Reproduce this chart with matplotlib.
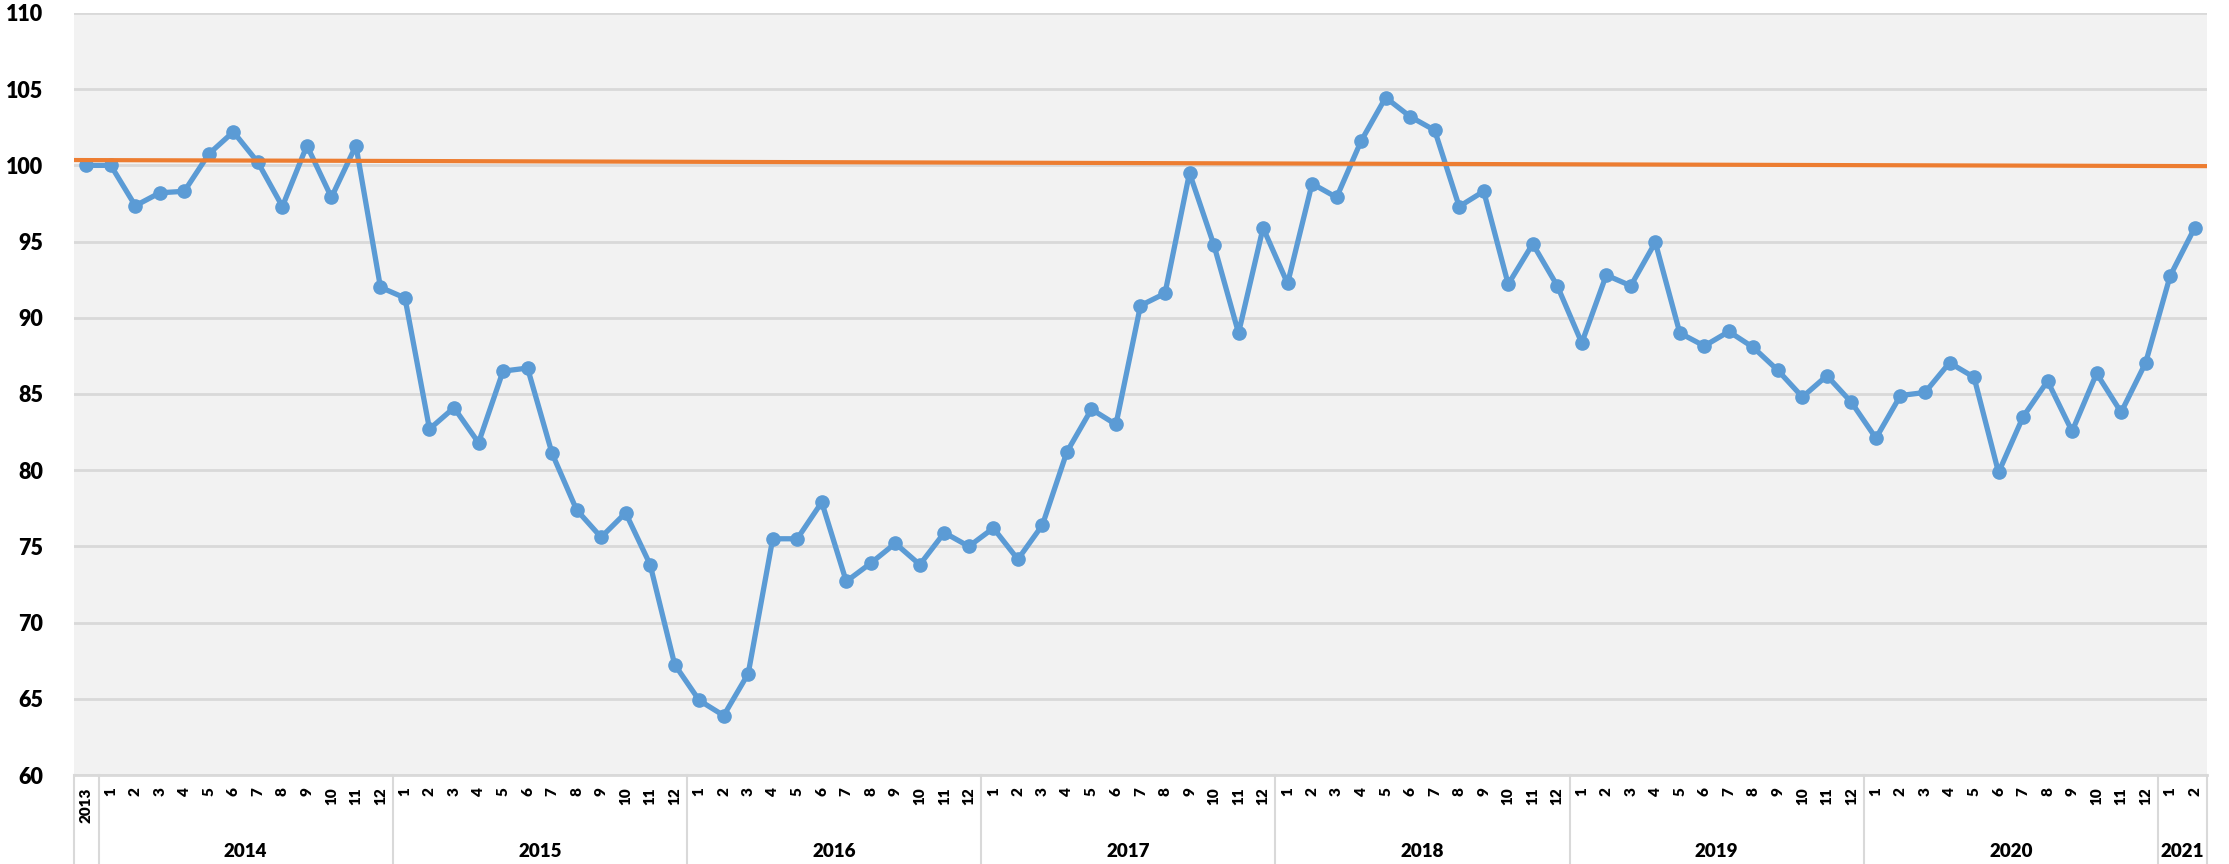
import numpy as np
import matplotlib.pyplot as plt
from matplotlib.transforms import blended_transform_factory

# index values, read month by month
v2013 = [100.0]
v2014 = [100.0, 97.35, 98.2, 98.3, 100.75, 102.2, 100.2, 97.3, 101.3, 97.9, 101.3, 92.0]
v2015 = [91.3, 82.7, 84.1, 81.8, 86.5, 86.7, 81.1, 77.4, 75.6, 77.2, 73.8, 67.25]
v2016 = [64.9, 63.9, 66.65, 75.5, 75.5, 77.9, 72.7, 73.9, 75.2, 73.8, 75.9, 75.0]
v2017 = [76.2, 74.15, 76.4, 81.2, 84.0, 83.0, 90.8, 91.6, 99.5, 94.75, 89.0, 95.9]
v2018 = [92.25, 98.8, 97.9, 101.6, 104.45, 103.2, 102.3, 97.3, 98.3, 92.2, 94.85, 92.1]
v2019 = [88.35, 92.8, 92.1, 94.95, 89.0, 88.15, 89.1, 88.05, 86.55, 84.8, 86.2, 84.45]
v2020 = [82.1, 84.9, 85.1, 87.05, 86.1, 79.85, 83.5, 85.85, 82.55, 86.35, 83.8, 87.05]
v2021 = [92.75, 95.9]

groups = ['2013', '2014', '2015', '2016', '2017', '2018', '2019', '2020', '2021']
series = [v2013, v2014, v2015, v2016, v2017, v2018, v2019, v2020, v2021]

# orange reference/trend line, value at left and right edge of the plot
ref_line = [100.35, 99.95]

values = []
labels = []
for g, s in zip(groups, series):
    values += s
    if g == '2013':
        labels.append('2013')
    else:
        labels += [str(m) for m in range(1, len(s) + 1)]

x = np.arange(len(values))

plt.rcParams['font.family'] = ['Lato', 'DejaVu Sans']
plt.rcParams['font.weight'] = 'heavy'

fig = plt.figure(figsize=(22.29, 8.64), dpi=100)
ax = fig.add_axes([0.0332, 0.103, 0.9569, 0.882])
ax.set_facecolor('#F2F2F2')

xlim = (-0.5, len(values) - 0.5)
ax.plot(x, values, color='#5B9BD5', lw=3.8, marker='o', markersize=9.5, zorder=3)
ax.plot(xlim, ref_line, color='#ED7D31', lw=3.0, zorder=4)

ax.set_xlim(*xlim)
ax.set_ylim(60, 110)
ax.set_yticks(range(60, 111, 5))
ax.yaxis.grid(True, color='#D9D9D9', lw=2)
ax.set_axisbelow(True)
for side in ['top', 'right', 'left']:
    ax.spines[side].set_visible(False)
ax.spines['bottom'].set_color('#D9D9D9')
ax.spines['bottom'].set_linewidth(2)

ax.tick_params(axis='y', length=0, labelsize=15.5, pad=22)
ax.set_xticks(x)
ax.set_xticklabels(labels, rotation=90, fontsize=11, va='top')
ax.tick_params(axis='x', length=0, pad=9)

# year groups below the month labels, with separators
trans = blended_transform_factory(ax.transData, ax.transAxes)
start = 0
bounds = [-0.5]
for g, s in zip(groups, series):
    end = start + len(s)
    if g != '2013':
        ax.text((start + end - 1) / 2, -0.101, g, transform=trans,
                ha='center', va='center', fontsize=13.5, fontweight='heavy')
    bounds.append(end - 0.5)
    start = end
for b in bounds:
    ax.plot([b, b], [0, -0.12], transform=trans, color='#D9D9D9', lw=1.5,
            clip_on=False)

fig.savefig('out.png', dpi=100)
